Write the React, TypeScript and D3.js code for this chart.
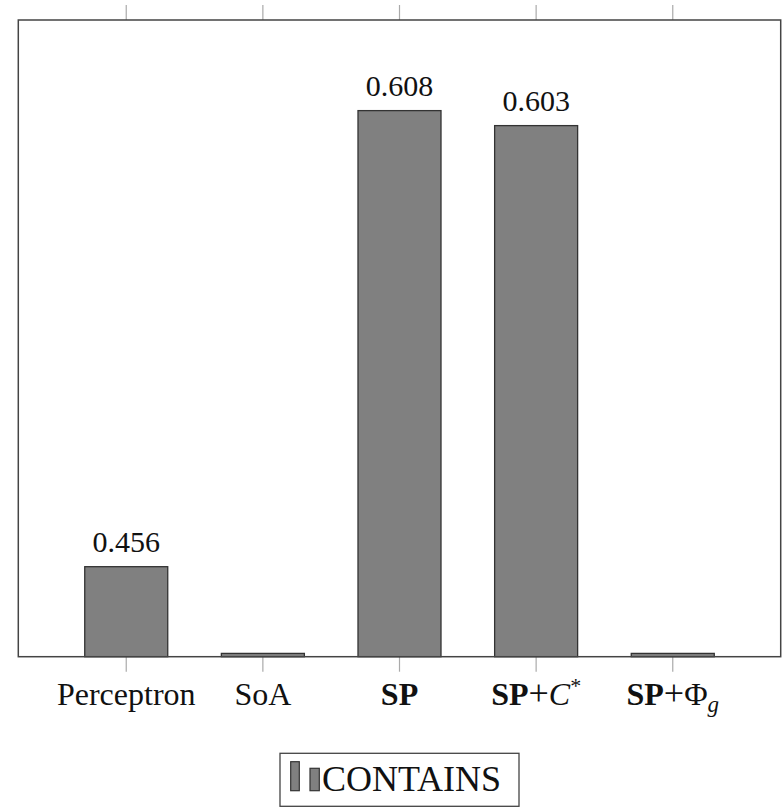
import React from "react";
import * as d3 from "d3";

const categories = ["Perceptron", "SoA", "SP", "SP+C*", "SP+Φg"];
const values = [0.456, 0.4271, 0.608, 0.603, 0.4271];
const valueLabels = ["0.456", "", "0.608", "0.603", ""];
const yDomain = [0.426, 0.6382];
const legendLabel = "CONTAINS";

const W = 782;
const H = 808;
const FONT = "Liberation Serif, DejaVu Serif, Times New Roman, serif";

function TickLabel({ name }: { name: string }) {
  if (name === "SP") {
    return <tspan fontWeight="bold">SP</tspan>;
  }
  if (name === "SP+C*") {
    return (
      <>
        <tspan fontWeight="bold">SP</tspan>
        <tspan fontSize="36">+</tspan>
        <tspan fontStyle="italic">C</tspan>
        <tspan fontSize="22" dy="-12">*</tspan>
      </>
    );
  }
  if (name === "SP+Φg") {
    return (
      <>
        <tspan fontWeight="bold">SP</tspan>
        <tspan fontSize="36">+</tspan>
        <tspan>Φ</tspan>
        <tspan fontStyle="italic" fontSize="23" dy="7">g</tspan>
      </>
    );
  }
  return <tspan>{name}</tspan>;
}

export default function App() {
  const left = 18.3;
  const right = 780.7;
  const top = 20;
  const bottom = 656.7;

  const x = d3.scalePoint<string>().domain(categories).range([left, right]).padding(0.79);
  const y = d3.scaleLinear().domain(yDomain).range([bottom, top]);
  const barW = 83;

  return (
    <svg
      width={W}
      height={H}
      style={{ position: "absolute", left: 0, top: 0, background: "#fff", fontFamily: FONT }}
    >
      <rect x={0} y={0} width={W} height={H} fill="#fff" />
      {categories.map((c) => (
        <g key={"t" + c} stroke="#aaa" strokeWidth={1.2}>
          <line x1={x(c)} x2={x(c)} y1={top - 15} y2={top} />
          <line x1={x(c)} x2={x(c)} y1={bottom} y2={bottom + 15} />
        </g>
      ))}
      {categories.map((c, i) => (
        <rect
          key={"b" + c}
          x={(x(c) as number) - barW / 2}
          y={y(values[i])}
          width={barW}
          height={bottom - y(values[i])}
          fill="#808080"
          stroke="#333"
          strokeWidth={1.3}
        />
      ))}
      {categories.map((c, i) =>
        valueLabels[i] ? (
          <text
            key={"v" + c}
            x={x(c)}
            y={y(values[i]) - 15}
            textAnchor="middle"
            fontSize={30}
            fill="#111"
            style={{ fontFamily: FONT }}
          >
            {valueLabels[i]}
          </text>
        ) : null
      )}
      <rect
        x={left}
        y={top}
        width={right - left}
        height={bottom - top}
        fill="none"
        stroke="#444"
        strokeWidth={1.5}
      />
      {categories.map((c) => (
        <text
          key={"l" + c}
          x={x(c)}
          y={705}
          textAnchor="middle"
          fontSize={32}
          fill="#111"
          style={{ fontFamily: FONT }}
        >
          <TickLabel name={c} />
        </text>
      ))}
      <g>
        <rect x={280} y={753.3} width={239} height={53} fill="#fff" stroke="#444" strokeWidth={1.3} />
        <rect x={290.7} y={761.7} width={8.6} height={29} fill="#808080" stroke="#333" strokeWidth={1.2} />
        <rect x={310} y={768.3} width={9.3} height={22.4} fill="#808080" stroke="#333" strokeWidth={1.2} />
        <text x={322} y={790.7} fontSize={36} fill="#111" style={{ fontFamily: FONT }}>
          {legendLabel}
        </text>
      </g>
    </svg>
  );
}
